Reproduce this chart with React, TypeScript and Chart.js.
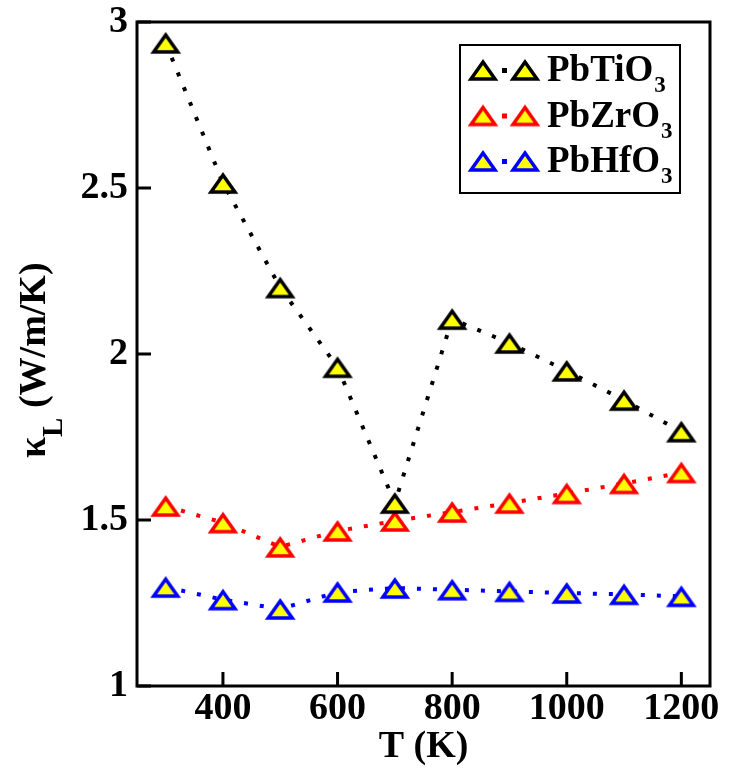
import React, { useEffect, useRef } from 'react';
import { Chart, registerables } from 'chart.js';

Chart.register(...registerables);

// ---- data ----
const temperatures = [300, 400, 500, 600, 700, 800, 900, 1000, 1100, 1200];
const pbTiO3Values = [2.937, 2.515, 2.2, 1.96, 1.551, 2.105, 2.033, 1.949, 1.861, 1.766];
const pbZrO3Values = [1.542, 1.492, 1.419, 1.467, 1.497, 1.524, 1.551, 1.58, 1.61, 1.643];
const pbHfO3Values = [1.298, 1.26, 1.232, 1.283, 1.295, 1.29, 1.285, 1.28, 1.276, 1.27];
const xTickValues = [400, 600, 800, 1000, 1200];
const yTickValues = [1, 1.5, 2, 2.5, 3];
const seriesLabels = ['PbTiO', 'PbZrO', 'PbHfO'];
const seriesSubscripts = ['3', '3', '3'];
const seriesColors = ['#000000', '#ff0000', '#0000ff'];
const xTitle = 'T (K)';
const yTitleMain = 'κ';
const yTitleSub = 'L';
const yTitleRest = ' (W/m/K)';

const FONT = '"Liberation Serif", "Times New Roman", serif';

function makeTriangle(stroke: string): HTMLCanvasElement {
  const c = document.createElement('canvas');
  c.width = 34;
  c.height = 26;
  const g = c.getContext('2d')!;
  g.beginPath();
  g.moveTo(17, 5);
  g.lineTo(29, 22);
  g.lineTo(5, 22);
  g.closePath();
  g.fillStyle = '#ffff00';
  g.fill();
  g.lineWidth = 3.5;
  g.lineJoin = 'miter';
  g.strokeStyle = stroke;
  g.stroke();
  return c;
}

export default function App() {
  const canvasRef = useRef<HTMLCanvasElement | null>(null);

  useEffect(() => {
    const canvas = canvasRef.current;
    if (!canvas) return;
    const tris = seriesColors.map((c) => makeTriangle(c));
    const seriesValues = [pbTiO3Values, pbZrO3Values, pbHfO3Values];

    const framePlugin = {
      id: 'frameTicks',
      afterDraw(chart: any) {
        const { ctx, chartArea } = chart;
        const xs = chart.scales.x;
        const ys = chart.scales.y;
        ctx.save();
        ctx.strokeStyle = '#000';
        ctx.lineWidth = 3;
        ctx.strokeRect(chartArea.left, chartArea.top, chartArea.right - chartArea.left, chartArea.bottom - chartArea.top);
        ctx.beginPath();
        xTickValues.forEach((v) => {
          const px = xs.getPixelForValue(v);
          ctx.moveTo(px, chartArea.bottom);
          ctx.lineTo(px, chartArea.bottom - 14);
        });
        yTickValues.forEach((v) => {
          const py = ys.getPixelForValue(v);
          ctx.moveTo(chartArea.left, py);
          ctx.lineTo(chartArea.left + 14, py);
        });
        ctx.stroke();

        // x title
        ctx.fillStyle = '#000';
        ctx.font = `bold 38px ${FONT}`;
        ctx.textAlign = 'center';
        ctx.textBaseline = 'alphabetic';
        ctx.fillText(xTitle, (chartArea.left + chartArea.right) / 2, 757);

        // y title (rotated)
        ctx.save();
        ctx.translate(45, 458);
        ctx.rotate(-Math.PI / 2);
        ctx.textAlign = 'left';
        ctx.font = `bold 38px ${FONT}`;
        let x0 = 0;
        ctx.fillText(yTitleMain, x0, 0);
        x0 += ctx.measureText(yTitleMain).width;
        ctx.font = `bold 29px ${FONT}`;
        ctx.fillText(yTitleSub, x0, 17);
        x0 += ctx.measureText(yTitleSub).width;
        ctx.font = `bold 38px ${FONT}`;
        ctx.fillText(yTitleRest, x0, 0);
        ctx.restore();

        // legend
        ctx.lineWidth = 2;
        ctx.strokeRect(460, 45, 220, 148);
        const rowTri = [70, 115.5, 161];
        seriesLabels.forEach((lab, i) => {
          const cy = rowTri[i];
          ctx.drawImage(tris[i], 483 - 17, cy - 13);
          ctx.drawImage(tris[i], 525 - 17, cy - 13);
          ctx.fillStyle = seriesColors[i];
          ctx.fillRect(502, cy - 2, 5, 5);
          ctx.fillStyle = '#000';
          ctx.font = `bold 37px ${FONT}`;
          ctx.textAlign = 'left';
          ctx.fillText(lab, 547, cy + 11);
          const w = ctx.measureText(lab).width;
          ctx.font = `bold 23px ${FONT}`;
          ctx.fillText(seriesSubscripts[i], 547 + w + 1, cy + 22);
        });
        ctx.restore();
      },
    };

    const tickFont = { family: FONT, size: 38, weight: 'bold' as const };

    const chart = new Chart(canvas, {
      type: 'line',
      data: {
        datasets: seriesLabels.map((lab, i) => ({
          label: lab + seriesSubscripts[i],
          data: temperatures.map((t, j) => ({ x: t, y: seriesValues[i][j] })),
          borderColor: seriesColors[i],
          borderWidth: 4,
          borderDash: [4, 12],
          borderCapStyle: 'butt' as const,
          pointStyle: tris[i] as any,
          pointRadius: 13,
          showLine: true,
          fill: false,
          tension: 0,
        })),
      },
      options: {
        responsive: false,
        animation: false,
        devicePixelRatio: 1,
        layout: { padding: { top: 22, right: 20, left: 0, bottom: 0 } },
        plugins: { legend: { display: false }, tooltip: { enabled: false } },
        scales: {
          x: {
            type: 'linear',
            min: 250,
            max: 1250,
            afterBuildTicks: (s: any) => {
              s.ticks = xTickValues.map((v) => ({ value: v }));
            },
            afterFit: (s: any) => {
              s.height = 84;
              s.paddingLeft = 0;
              s.paddingRight = 0;
            },
            grid: { display: false, drawTicks: false },
            border: { display: false },
            ticks: {
              font: tickFont,
              color: '#000',
              padding: 0,
              maxRotation: 0,
              autoSkip: false,
              callback: (v: any) => String(v),
            },
          },
          y: {
            type: 'linear',
            min: 1,
            max: 3,
            afterBuildTicks: (s: any) => {
              s.ticks = yTickValues.map((v) => ({ value: v }));
            },
            afterFit: (s: any) => {
              s.width = 137;
              s.paddingTop = 0;
              s.paddingBottom = 0;
            },
            grid: { display: false, drawTicks: false },
            border: { display: false },
            ticks: {
              font: tickFont,
              color: '#000',
              padding: 9,
              autoSkip: false,
              callback: (v: any) => String(v),
            },
          },
        },
      },
      plugins: [framePlugin],
    });
    return () => chart.destroy();
  }, []);

  return (
    <div style={{ position: 'fixed', left: 0, top: 0, width: 730, height: 770, background: '#fff' }}>
      <canvas ref={canvasRef} width={730} height={770} style={{ display: 'block' }} />
    </div>
  );
}
